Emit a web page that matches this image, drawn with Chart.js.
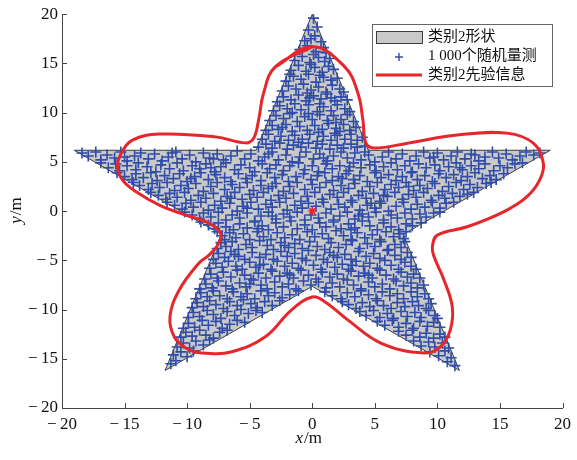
<!DOCTYPE html>
<html>
<head>
<meta charset="utf-8">
<script src="https://cdn.jsdelivr.net/npm/chart.js@4.4.1/dist/chart.umd.min.js"></script>
<style>
    html, body { margin: 0; padding: 0; background: #fff; }
    canvas { display: block; }
</style>
</head>
<body>
<canvas id="starChart" width="577" height="460" style="width:577px;height:460px"></canvas>
<script>
const axisTicks = [-20, -15, -10, -5, 0, 5, 10, 15, 20];
const legendLabels = ['类别2形状', '1 000个随机量测', '类别2先验信息'];

// star outline (x, y in m)
const starShape = [
    [0, 20], [4.49, 6.18], [19.02, 6.18], [7.27, -2.36], [11.76, -16.18],
    [0, -7.64], [-11.76, -16.18], [-7.27, -2.36], [-19.02, 6.18], [-4.49, 6.18], [0, 20]
];

// prior information curve, read round the loop from the top
const priorCurve = [
    [0, 16.7], [-2.96, 14.65], [-3.89, 11.98], [-4.29, 9.24], [-4.68, 7.41], [-5.34, 6.93],
    [-7.72, 7.54], [-12.22, 7.82], [-14.37, 7.21], [-15.26, 5.89], [-15.56, 4.5], [-15.16, 3.15],
    [-14.07, 1.96], [-12.22, 0.61], [-10.1, -0.41], [-8.25, -1.22], [-7.33, -2.23], [-7.46, -3.25],
    [-8.25, -4.47], [-9.05, -5.28], [-10.63, -8.02], [-11.37, -10.73], [-11.03, -12.76], [-10.1, -13.9],
    [-8.81, -14.42], [-6.43, -14.28], [-3.75, -12.76], [-1.67, -10.05], [0, -8.73], [1.0, -9.2],
    [2.86, -11.07], [5.48, -13.4], [8.94, -14.42], [10.24, -13.78], [11.03, -12.08], [11.19, -9.72],
    [10.53, -7.0], [9.74, -4.64], [9.6, -3.62], [10.0, -2.44], [12.38, -1.59], [15.29, -0.07],
    [17.14, 1.45], [18.17, 3.15], [18.47, 4.87], [17.67, 6.9], [15.56, 7.92], [11.59, 7.72],
    [7.62, 6.9], [4.98, 6.4], [4.29, 6.9], [4.05, 9.24], [3.65, 11.98], [2.6, 14.65]
];

const centerPoint = [[0, 0]];

// measurements scattered over the star
const measurements = [
    [0.1,19.6],[-0.3,18.4],[0.4,18.7],[-0.6,17.3],[0.2,17.8],[0.7,17.2],[-0.1,17.5],[-1.0,16.4],[-0.4,16.8],[0.3,16.2],[0.9,16.6],[1.1,16.1],
    [-1.4,15.3],[-0.8,15.7],[-0.2,15.1],[0.5,15.6],[1.0,15.2],[1.4,15.5],[0.1,15.9],[-1.7,14.3],[-1.1,14.8],[-0.5,14.2],[0.2,14.6],[0.8,14.1],
    [1.3,14.7],[1.7,14.4],[-0.1,14.9],[-2.1,13.2],[-1.5,13.7],[-0.9,13.4],[-0.3,13.9],[0.3,13.1],[0.9,13.6],[1.5,13.3],[2.0,13.5],[-1.8,13.9],
    [0.6,13.8],[-2.4,12.2],[-1.9,12.7],[-1.3,12.4],[-0.7,12.9],[-0.1,12.3],[0.5,12.6],[1.1,12.1],[1.6,12.8],[2.2,12.4],[2.5,12.1],[-0.4,12.0],
    [-2.8,11.1],[-2.3,11.6],[-1.7,11.3],[-1.1,11.8],[-0.5,11.2],[0.1,11.7],[0.7,11.4],[1.2,11.9],[1.8,11.2],[2.3,11.6],[2.8,11.3],[-0.2,11.5],
    [1.5,11.5],[-3.1,10.2],[-2.6,10.7],[-2.0,10.4],[-1.4,10.9],[-0.9,10.3],[-0.3,10.8],[0.4,10.1],[0.9,10.6],[1.5,10.2],[2.0,10.8],[2.6,10.4],
    [3.0,10.1],[-1.6,10.0],[0.6,10.9],[-3.4,9.2],[-2.9,9.7],[-2.3,9.4],[-1.8,9.9],[-1.2,9.1],[-0.6,9.6],[0.0,9.3],[0.6,9.8],[1.2,9.2],
    [1.7,9.7],[2.3,9.3],[2.8,9.8],[3.3,9.1],[-0.3,9.9],[1.9,9.0],[-3.7,8.2],[-3.2,8.7],[-2.7,8.3],[-2.1,8.8],[-1.6,8.1],[-1.0,8.6],
    [-0.4,8.2],[0.2,8.7],[0.8,8.3],[1.3,8.9],[1.9,8.4],[2.5,8.8],[3.0,8.2],[3.5,8.5],[-2.4,8.5],[0.5,8.0],[2.2,8.1],[-4.0,7.3],
    [-3.5,7.8],[-3.0,7.1],[-2.5,7.6],[-1.9,7.2],[-1.4,7.7],[-0.8,7.3],[-0.2,7.8],[0.4,7.1],[0.9,7.6],[1.5,7.2],[2.0,7.7],[2.6,7.3],
    [3.1,7.8],[3.6,7.2],[4.0,7.5],[-1.1,7.0],[1.8,7.9],[-4.3,6.5],[-3.7,6.8],[-3.2,6.4],[-2.6,6.9],[-2.0,6.3],[-1.5,6.7],[-0.9,6.5],
    [-0.3,6.9],[0.3,6.4],[0.8,6.8],[1.4,6.3],[2.0,6.7],[2.5,6.4],[3.1,6.8],[3.6,6.5],[4.2,6.6],
    [-18.4,5.9],[-17.9,5.6],[-17.3,6.0],[-16.9,5.2],[-16.4,5.7],[-15.8,5.4],[-15.3,6.0],[-14.8,5.1],[-14.2,5.6],[-13.7,5.9],[-13.1,5.3],[-12.6,5.8],
    [-12.0,5.1],[-11.5,5.5],[-10.9,6.0],[-10.4,5.3],[-9.8,5.7],[-9.3,5.0],[-8.7,5.9],[-8.2,5.4],[-7.6,5.8],[-7.1,5.2],[-6.5,5.6],[-6.0,6.1],
    [-5.4,5.3],[-4.9,5.8],[-4.3,5.1],[-3.8,5.5],[-3.2,6.0],[-2.7,5.2],[-2.1,5.7],[-1.6,5.0],[-1.0,5.5],[-0.5,6.0],[0.1,5.3],[0.6,5.8],
    [1.2,5.1],[1.7,5.6],[2.3,6.0],[2.8,5.4],[3.4,5.9],[3.9,5.2],[4.5,5.7],[5.0,5.0],[5.6,5.5],[6.1,6.0],[6.7,5.3],[7.2,5.8],
    [7.8,5.1],[8.3,5.6],[8.9,6.0],[9.4,5.4],[10.0,5.9],[10.5,5.2],[11.1,5.6],[11.6,6.0],[12.2,5.3],[12.7,5.8],[13.3,5.1],[13.8,5.5],
    [14.4,6.0],[14.9,5.4],[15.5,5.8],[16.0,5.2],[16.6,5.6],[17.1,6.0],[17.7,5.7],[18.2,5.9],[-15.0,5.5],[-11.2,5.9],[-7.9,5.3],[-3.5,5.8],
    [0.9,5.4],[4.2,6.0],[9.7,5.5],[13.0,5.7],
    [-16.9,4.9],[-16.3,4.4],[-15.7,4.8],[-15.4,4.1],[-14.8,4.6],[-14.1,4.2],[-13.9,4.9],[-13.2,4.5],[-12.5,4.0],[-12.1,4.7],[-11.4,4.3],[-10.8,4.9],
    [-10.3,4.1],[-9.6,4.6],[-9.0,4.3],[-8.5,4.8],[-7.8,4.0],[-7.3,4.5],[-6.9,4.9],[-6.2,4.2],[-5.7,4.7],[-5.0,4.4],[-4.6,4.0],[-4.0,4.8],
    [-3.4,4.3],[-2.9,4.7],[-2.3,4.1],[-1.8,4.6],[-1.1,4.9],[-0.6,4.2],[0.0,4.6],[0.5,4.0],[1.1,4.8],[1.6,4.3],[2.2,4.6],[2.9,4.1],
    [3.3,4.9],[3.9,4.4],[4.6,4.7],[5.1,4.1],[5.7,4.5],[6.3,4.9],[6.8,4.2],[7.4,4.6],[8.0,4.0],[8.5,4.8],[9.1,4.4],[9.8,4.7],
    [10.2,4.1],[10.9,4.5],[11.5,4.9],[12.0,4.2],[12.7,4.6],[13.3,4.3],[13.8,4.8],[14.5,4.1],[15.0,4.6],[15.6,4.4],[16.2,4.8],[16.8,4.9],
    [-8.1,4.4],[3.0,4.5],[11.8,4.4],
    [-15.6,3.9],[-15.0,3.5],[-14.4,3.2],[-14.1,3.8],[-13.5,3.4],[-12.9,3.9],[-12.4,3.1],[-11.8,3.6],[-11.1,3.3],[-10.6,3.8],[-10.0,3.0],[-9.4,3.5],
    [-8.9,3.9],[-8.3,3.2],[-7.7,3.7],[-7.0,3.4],[-6.5,3.0],[-5.9,3.8],[-5.3,3.3],[-4.8,3.6],[-4.1,3.1],[-3.6,3.9],[-3.0,3.4],[-2.4,3.7],
    [-1.9,3.0],[-1.3,3.5],[-0.7,3.8],[-0.1,3.2],[0.4,3.6],[1.0,3.9],[1.6,3.1],[2.1,3.5],[2.7,3.8],[3.3,3.2],[3.8,3.6],[4.4,3.0],
    [5.0,3.9],[5.5,3.4],[6.1,3.7],[6.7,3.1],[7.2,3.5],[7.9,3.9],[8.4,3.2],[9.0,3.6],[9.6,3.0],[10.1,3.8],[10.7,3.4],[11.3,3.7],
    [11.9,3.1],[12.4,3.5],[13.0,3.9],[13.6,3.3],[14.2,3.6],[14.7,3.2],[15.3,3.8],[-9.7,3.3],[2.4,3.3],
    [-14.3,2.9],[-13.8,2.6],[-13.1,2.2],[-12.8,2.8],[-12.2,2.4],[-11.6,2.9],[-11.0,2.1],[-10.5,2.6],[-9.9,2.3],[-9.3,2.8],[-8.7,2.0],[-8.1,2.5],
    [-7.6,2.9],[-7.0,2.2],[-6.4,2.7],[-5.8,2.4],[-5.2,2.9],[-4.7,2.1],[-4.1,2.6],[-3.5,2.3],[-2.9,2.8],[-2.3,2.0],[-1.8,2.5],[-1.2,2.9],
    [-0.6,2.2],[0.0,2.7],[0.6,2.4],[1.1,2.9],[1.7,2.1],[2.3,2.6],[2.9,2.3],[3.4,2.8],[4.0,2.0],[4.6,2.5],[5.2,2.9],[5.8,2.2],
    [6.3,2.7],[6.9,2.4],[7.5,2.9],[8.1,2.1],[8.6,2.6],[9.2,2.3],[9.8,2.8],[10.4,2.0],[10.9,2.5],[11.5,2.9],[12.1,2.2],[12.6,2.7],
    [13.2,2.4],[13.9,2.8],[14.3,2.9],[-3.2,2.5],[7.7,2.5],
    [-12.9,1.9],[-12.3,1.6],[-11.7,1.2],[-11.4,1.8],[-10.8,1.4],[-10.2,1.9],[-9.7,1.1],[-9.1,1.6],[-8.5,1.3],[-7.9,1.8],[-7.3,1.0],[-6.8,1.5],
    [-6.2,1.9],[-5.6,1.2],[-5.0,1.7],[-4.4,1.4],[-3.9,1.9],[-3.3,1.1],[-2.7,1.6],[-2.1,1.3],[-1.5,1.8],[-0.9,1.0],[-0.4,1.5],[0.2,1.9],
    [0.8,1.2],[1.4,1.7],[2.0,1.4],[2.5,1.9],[3.1,1.1],[3.7,1.6],[4.3,1.3],[4.9,1.8],[5.4,1.0],[6.0,1.5],[6.6,1.9],[7.2,1.2],
    [7.7,1.7],[8.3,1.4],[8.9,1.9],[9.5,1.1],[10.1,1.6],[10.6,1.3],[11.2,1.8],[11.8,1.5],[12.4,1.7],[12.9,1.9],[-6.5,1.3],[5.7,1.6],
    [-11.6,0.9],[-11.0,0.6],[-10.4,0.2],[-10.1,0.8],[-9.5,0.4],[-8.9,0.9],[-8.3,0.1],[-7.8,0.6],[-7.2,0.3],[-6.6,0.8],[-6.0,0.0],[-5.5,0.5],
    [-4.9,0.9],[-4.3,0.2],[-3.7,0.7],[-3.2,0.4],[-2.6,0.9],[-2.0,0.1],[-1.4,0.6],[-0.8,0.3],[-0.3,0.8],[0.3,0.5],[0.9,0.9],[1.5,0.2],
    [2.1,0.7],[2.6,0.4],[3.2,0.9],[3.8,0.1],[4.4,0.6],[5.0,0.3],[5.5,0.8],[6.1,0.0],[6.7,0.5],[7.3,0.9],[7.9,0.2],[8.4,0.7],
    [9.0,0.4],[9.6,0.9],[10.2,0.3],[10.7,0.8],[11.3,0.9],[-5.2,0.3],[4.7,0.8],
    [-10.2,-0.1],[-9.6,-0.4],[-9.0,-0.8],[-8.7,-0.2],[-8.1,-0.6],[-7.5,-0.1],[-6.9,-0.9],[-6.4,-0.4],[-5.8,-0.7],[-5.2,-0.2],[-4.6,-1.0],[-4.1,-0.5],
    [-3.5,-0.1],[-2.9,-0.8],[-2.3,-0.3],[-1.8,-0.6],[-1.2,-0.1],[-0.6,-0.9],[-0.1,-0.4],[0.5,-0.7],[1.1,-0.2],[1.7,-0.9],[2.2,-0.5],[2.8,-0.1],
    [3.4,-0.8],[4.0,-0.3],[4.5,-0.6],[5.1,-0.1],[5.7,-0.9],[6.3,-0.4],[6.8,-0.7],[7.4,-0.2],[8.0,-0.8],[8.6,-0.3],[9.1,-0.6],[9.7,-0.2],
    [10.2,-0.1],[-3.2,-0.5],[3.7,-0.5],
    [-8.9,-1.1],[-8.3,-1.4],[-7.8,-1.8],[-7.5,-1.2],[-6.9,-1.6],[-6.3,-1.9],[-5.8,-1.3],[-5.2,-1.7],[-4.6,-1.1],[-4.0,-1.5],[-3.5,-1.9],[-2.9,-1.2],
    [-2.3,-1.6],[-1.7,-1.0],[-1.2,-1.8],[-0.6,-1.4],[0.0,-1.9],[0.6,-1.2],[1.1,-1.6],[1.7,-1.1],[2.3,-1.8],[2.9,-1.3],[3.4,-1.7],[4.0,-1.0],
    [4.6,-1.5],[5.2,-1.9],[5.7,-1.2],[6.3,-1.6],[6.9,-1.9],[7.5,-1.3],[8.0,-1.5],[8.7,-1.2],[-4.3,-1.8],[3.1,-1.9],
    [-7.6,-2.1],[-7.2,-2.5],[-7.0,-2.9],[-6.6,-2.2],[-6.1,-2.7],[-5.5,-2.3],[-5.0,-2.9],[-4.4,-2.1],[-3.9,-2.6],[-3.3,-2.9],[-2.8,-2.2],[-2.2,-2.7],
    [-1.6,-2.4],[-1.0,-2.9],[-0.4,-2.1],[0.2,-2.6],[0.8,-2.3],[1.3,-2.8],[1.9,-2.0],[2.5,-2.5],[3.1,-2.9],[3.6,-2.2],[4.2,-2.7],[4.8,-2.4],
    [5.4,-2.9],[5.9,-2.1],[6.5,-2.6],[7.0,-2.3],[7.3,-2.8],[7.5,-2.1],
    [-7.6,-3.8],[-7.3,-3.2],[-6.9,-3.6],[-6.4,-3.1],[-5.9,-3.9],[-5.3,-3.4],[-4.8,-3.7],[-4.2,-3.0],[-3.6,-3.5],[-3.1,-3.9],[-2.5,-3.2],[-1.9,-3.7],
    [-1.4,-3.3],[-0.8,-3.8],[-0.2,-3.1],[0.4,-3.6],[1.0,-3.9],[1.5,-3.2],[2.1,-3.7],[2.7,-3.4],[3.2,-3.0],[3.8,-3.8],[4.4,-3.3],[5.0,-3.6],
    [5.5,-3.1],[6.1,-3.9],[6.6,-3.4],[7.1,-3.7],[7.4,-3.1],[-2.2,-3.5],
    [-7.9,-4.9],[-7.5,-4.3],[-7.0,-4.7],[-6.5,-4.1],[-5.9,-4.6],[-5.4,-4.9],[-4.8,-4.2],[-4.2,-4.7],[-3.7,-4.4],[-3.1,-4.9],[-2.5,-4.1],[-2.0,-4.6],
    [-1.4,-4.3],[-0.8,-4.8],[-0.3,-4.0],[0.3,-4.5],[0.9,-4.9],[1.4,-4.2],[2.0,-4.7],[2.6,-4.4],[3.1,-4.9],[3.7,-4.1],[4.3,-4.6],[4.9,-4.3],
    [5.4,-4.8],[6.0,-4.0],[6.6,-4.5],[7.1,-4.9],[7.6,-4.2],[7.9,-4.7],[-6.2,-4.4],[1.7,-4.5],
    [-8.2,-5.8],[-7.7,-5.3],[-7.2,-5.7],[-6.7,-5.1],[-6.1,-5.6],[-5.6,-5.9],[-5.0,-5.2],[-4.5,-5.7],[-3.9,-5.4],[-3.3,-5.9],[-2.8,-5.1],[-2.2,-5.6],
    [-1.6,-5.3],[-1.1,-5.8],[-0.5,-5.0],[0.1,-5.5],[0.7,-5.9],[1.2,-5.2],[1.8,-5.7],[2.4,-5.4],[2.9,-5.9],[3.5,-5.1],[4.1,-5.6],[4.6,-5.3],
    [5.2,-5.8],[5.8,-5.0],[6.3,-5.5],[6.9,-5.9],[7.4,-5.2],[7.9,-5.6],[8.3,-5.9],[-4.2,-5.5],[3.2,-5.5],
    [-8.6,-6.9],[-8.1,-6.4],[-7.6,-6.8],[-7.1,-6.2],[-6.5,-6.7],[-6.0,-6.0],[-5.4,-6.5],[-4.9,-6.9],[-4.3,-6.3],[-3.7,-6.8],[-3.2,-6.1],[-2.6,-6.6],
    [-2.0,-6.3],[-1.5,-6.8],[-0.9,-6.0],[-0.3,-6.5],[0.3,-6.9],[0.8,-6.2],[1.4,-6.7],[2.0,-6.4],[2.5,-6.9],[3.1,-6.1],[3.7,-6.6],[4.2,-6.3],
    [4.8,-6.8],[5.4,-6.0],[5.9,-6.5],[6.5,-6.9],[7.1,-6.2],[7.6,-6.7],[8.1,-6.4],[8.6,-6.8],[-1.8,-6.5],[4.5,-6.5],
    [-9.0,-7.9],[-8.5,-7.4],[-8.0,-7.8],[-7.5,-7.1],[-6.9,-7.6],[-6.4,-7.9],[-5.8,-7.3],[-5.3,-7.7],[-4.7,-7.0],[-4.1,-7.5],[-3.6,-7.9],[-3.0,-7.2],
    [-2.4,-7.7],[-1.9,-7.4],[-1.3,-7.9],[-0.7,-7.1],[-0.1,-7.5],[0.5,-7.2],[1.1,-7.8],[1.6,-7.3],[2.2,-7.7],[2.8,-7.0],[3.3,-7.5],[3.9,-7.9],
    [4.5,-7.2],[5.0,-7.7],[5.6,-7.4],[6.2,-7.9],[6.7,-7.1],[7.3,-7.6],[7.9,-7.3],[8.4,-7.8],[8.9,-7.5],[-5.0,-7.4],
    [-9.3,-8.9],[-8.9,-8.3],[-8.4,-8.7],[-7.9,-8.1],[-7.4,-8.6],[-6.8,-8.9],[-6.3,-8.2],[-5.7,-8.7],[-5.2,-8.4],[-4.6,-8.9],[-4.1,-8.1],[-3.5,-8.6],
    [-3.0,-8.3],[-2.4,-8.8],[-1.8,-8.5],[-1.1,-8.1],[1.0,-8.2],[1.6,-8.6],[2.3,-8.9],[2.8,-8.3],[3.4,-8.7],[3.9,-8.1],[4.5,-8.5],[5.1,-8.9],
    [5.6,-8.2],[6.2,-8.6],[6.8,-8.4],[7.3,-8.9],[7.9,-8.2],[8.4,-8.7],[9.0,-8.4],[9.3,-8.9],
    [-9.6,-9.8],[-9.2,-9.3],[-8.7,-9.7],[-8.2,-9.1],[-7.7,-9.5],[-7.1,-9.9],[-6.6,-9.2],[-6.0,-9.6],[-5.5,-9.0],[-4.9,-9.4],[-4.4,-9.8],[-3.8,-9.2],
    [-3.2,-9.6],[-2.6,-9.1],[2.4,-9.2],[2.9,-9.5],[3.5,-9.9],[4.0,-9.3],[4.6,-9.7],[5.2,-9.1],[5.7,-9.6],[6.3,-9.9],[6.8,-9.3],[7.4,-9.7],
    [8.0,-9.2],[8.5,-9.6],[9.1,-9.9],[9.5,-9.4],
    [-9.9,-10.8],[-9.5,-10.3],[-9.0,-10.7],[-8.4,-10.1],[-7.9,-10.5],[-7.3,-10.9],[-6.8,-10.2],[-6.2,-10.6],[-5.7,-10.0],[-5.1,-10.4],[-4.5,-10.1],[-4.0,-10.3],
    [3.8,-10.2],[4.3,-10.6],[4.9,-10.1],[5.4,-10.8],[6.0,-10.4],[6.5,-10.9],[7.1,-10.2],[7.6,-10.7],[8.2,-10.3],[8.7,-10.8],[9.3,-10.1],[9.8,-10.6],[10.0,-10.9],
    [-10.3,-11.9],[-9.9,-11.4],[-9.4,-11.8],[-8.8,-11.1],[-8.3,-11.6],[-7.7,-11.2],[-7.2,-11.9],[-6.6,-11.5],[-6.0,-11.1],[-5.4,-11.3],
    [5.2,-11.2],[5.8,-11.6],[6.4,-11.1],[6.9,-11.8],[7.5,-11.4],[8.1,-11.9],[8.6,-11.2],[9.2,-11.7],[9.7,-11.3],[10.2,-11.8],
    [-10.5,-12.8],[-10.1,-12.3],[-9.6,-12.7],[-9.0,-12.1],[-8.5,-12.6],[-7.9,-12.9],[-7.4,-12.3],[-6.8,-12.1],
    [6.9,-12.2],[7.5,-12.6],[8.0,-12.1],[8.6,-12.8],[9.1,-12.4],[9.7,-12.9],[10.2,-12.5],[10.6,-12.8],
    [-10.8,-13.8],[-10.3,-13.4],[-9.8,-13.9],[-9.3,-13.2],[-8.7,-13.6],[-8.2,-13.1],
    [8.1,-13.2],[8.7,-13.7],[9.3,-13.3],[9.8,-13.8],[10.4,-13.4],[10.9,-13.9],
    [-11.1,-14.6],[-10.5,-14.3],[-10.0,-14.8],[-9.5,-14.2],[9.4,-14.3],[10.1,-14.7],[10.6,-14.2],[11.1,-14.9],
    [-11.3,-15.5],[-10.9,-15.2],[10.8,-15.3],[11.4,-15.7]
];

const SERIF = "'Liberation Serif', 'Times New Roman', serif";
const CJK = "'Liberation Serif', 'Noto Sans CJK SC', serif";
const STAR_FILL = '#c9c9c9';
const STAR_EDGE = '#3c3c3c';
const MEAS_BLUE = '#2f4ca8';
const PRIOR_RED = '#e6262b';

const toXY = pts => pts.map(p => ({ x: p[0], y: p[1] }));

// close the smooth loop by running past the start point
const priorLoop = priorCurve.concat([priorCurve[0], priorCurve[1]]);

function formatTick(v) {
    return v < 0 ? '\u2212\u2009' + Math.abs(v) : String(v);
}

function drawAxisTitle(ctx, italicPart, plainPart, cx, cy, angle) {
    const italicFont = 'italic 17px ' + SERIF;
    const plainFont = '17px ' + SERIF;
    ctx.save();
    ctx.translate(cx, cy);
    ctx.rotate(angle);
    ctx.font = italicFont;
    const w1 = ctx.measureText(italicPart).width;
    ctx.font = plainFont;
    const w2 = ctx.measureText(plainPart).width;
    const start = -(w1 + w2) / 2;
    ctx.fillStyle = '#111';
    ctx.textBaseline = 'middle';
    ctx.textAlign = 'left';
    ctx.font = italicFont;
    ctx.fillText(italicPart, start, 0);
    ctx.font = plainFont;
    ctx.fillText(plainPart, start + w1 + 1, 0);
    ctx.restore();
}

const extrasPlugin = {
    id: 'extras',
    afterDraw(chart) {
        const ctx = chart.ctx;
        const xs = chart.scales.x;
        const ys = chart.scales.y;
        const area = chart.chartArea;
        ctx.save();

        // inward tick marks
        ctx.strokeStyle = '#444';
        ctx.lineWidth = 1;
        ctx.beginPath();
        axisTicks.forEach(v => {
            const px = Math.round(xs.getPixelForValue(v)) + 0.5;
            ctx.moveTo(px, area.bottom);
            ctx.lineTo(px, area.bottom - 5);
            const py = Math.round(ys.getPixelForValue(v)) + 0.5;
            ctx.moveTo(area.left, py);
            ctx.lineTo(area.left + 5, py);
        });
        ctx.stroke();

        drawAxisTitle(ctx, 'x', '/m', (area.left + area.right) / 2 - 4, 439, 0);
        drawAxisTitle(ctx, 'y', '/m', 17, (area.top + area.bottom) / 2, -Math.PI / 2);

        // legend box
        const bx = 372.5, by = 24.5, bw = 180, bh = 62;
        ctx.fillStyle = '#fff';
        ctx.fillRect(bx, by, bw, bh);
        ctx.strokeStyle = '#666';
        ctx.lineWidth = 1;
        ctx.strokeRect(bx, by, bw, bh);

        const rows = [37, 56, 75];
        ctx.fillStyle = STAR_FILL;
        ctx.fillRect(376.5, 31.5, 46, 12);
        ctx.strokeStyle = STAR_EDGE;
        ctx.strokeRect(376.5, 31.5, 46, 12);

        ctx.strokeStyle = MEAS_BLUE;
        ctx.lineWidth = 1.4;
        ctx.beginPath();
        ctx.moveTo(395, rows[1] + 1); ctx.lineTo(403, rows[1] + 1);
        ctx.moveTo(399, rows[1] - 3); ctx.lineTo(399, rows[1] + 5);
        ctx.stroke();

        ctx.strokeStyle = PRIOR_RED;
        ctx.lineWidth = 3;
        ctx.beginPath();
        ctx.moveTo(376, rows[2]); ctx.lineTo(422, rows[2]);
        ctx.stroke();

        ctx.fillStyle = '#111';
        ctx.font = '15px ' + CJK;
        ctx.textBaseline = 'middle';
        ctx.textAlign = 'left';
        legendLabels.forEach((t, i) => ctx.fillText(t, 428, rows[i]));

        ctx.restore();
    }
};

new Chart(document.getElementById('starChart'), {
    type: 'scatter',
    data: {
        datasets: [
            {
                label: legendLabels[0],
                data: toXY(starShape),
                showLine: true,
                fill: 'shape',
                backgroundColor: STAR_FILL,
                borderColor: STAR_EDGE,
                borderWidth: 1,
                pointRadius: 0,
                tension: 0,
                order: 4
            },
            {
                label: legendLabels[1],
                data: toXY(measurements),
                pointStyle: 'cross',
                pointRadius: 5.5,
                borderColor: MEAS_BLUE,
                borderWidth: 1.6,
                order: 3
            },
            {
                label: legendLabels[2],
                data: toXY(priorLoop),
                showLine: true,
                borderColor: PRIOR_RED,
                borderWidth: 3,
                pointRadius: 0,
                tension: 0.4,
                fill: false,
                order: 2
            },
            {
                label: 'centre',
                data: toXY(centerPoint),
                pointStyle: 'star',
                pointRadius: 4,
                borderColor: PRIOR_RED,
                borderWidth: 1.5,
                order: 1
            }
        ]
    },
    options: {
        responsive: false,
        animation: false,
        events: [],
        layout: { padding: { left: 0, right: 11, top: 14, bottom: 0 } },
        plugins: { legend: { display: false }, tooltip: { enabled: false } },
        scales: {
            x: {
                type: 'linear',
                min: -20, max: 20,
                grid: { display: false, drawTicks: false },
                border: { display: true, color: '#444', width: 1 },
                ticks: { stepSize: 5, autoSkip: false, padding: 6, color: '#111', font: { family: SERIF, size: 17 }, callback: formatTick },
                afterFit(scale) { scale.height = 52; }
            },
            y: {
                type: 'linear',
                min: -20, max: 20,
                grid: { display: false, drawTicks: false },
                border: { display: true, color: '#444', width: 1 },
                ticks: { stepSize: 5, autoSkip: false, padding: 4, color: '#111', font: { family: SERIF, size: 17 }, callback: formatTick },
                afterFit(scale) { scale.width = 62; }
            }
        }
    },
    plugins: [extrasPlugin]
});
</script>
</body>
</html>
